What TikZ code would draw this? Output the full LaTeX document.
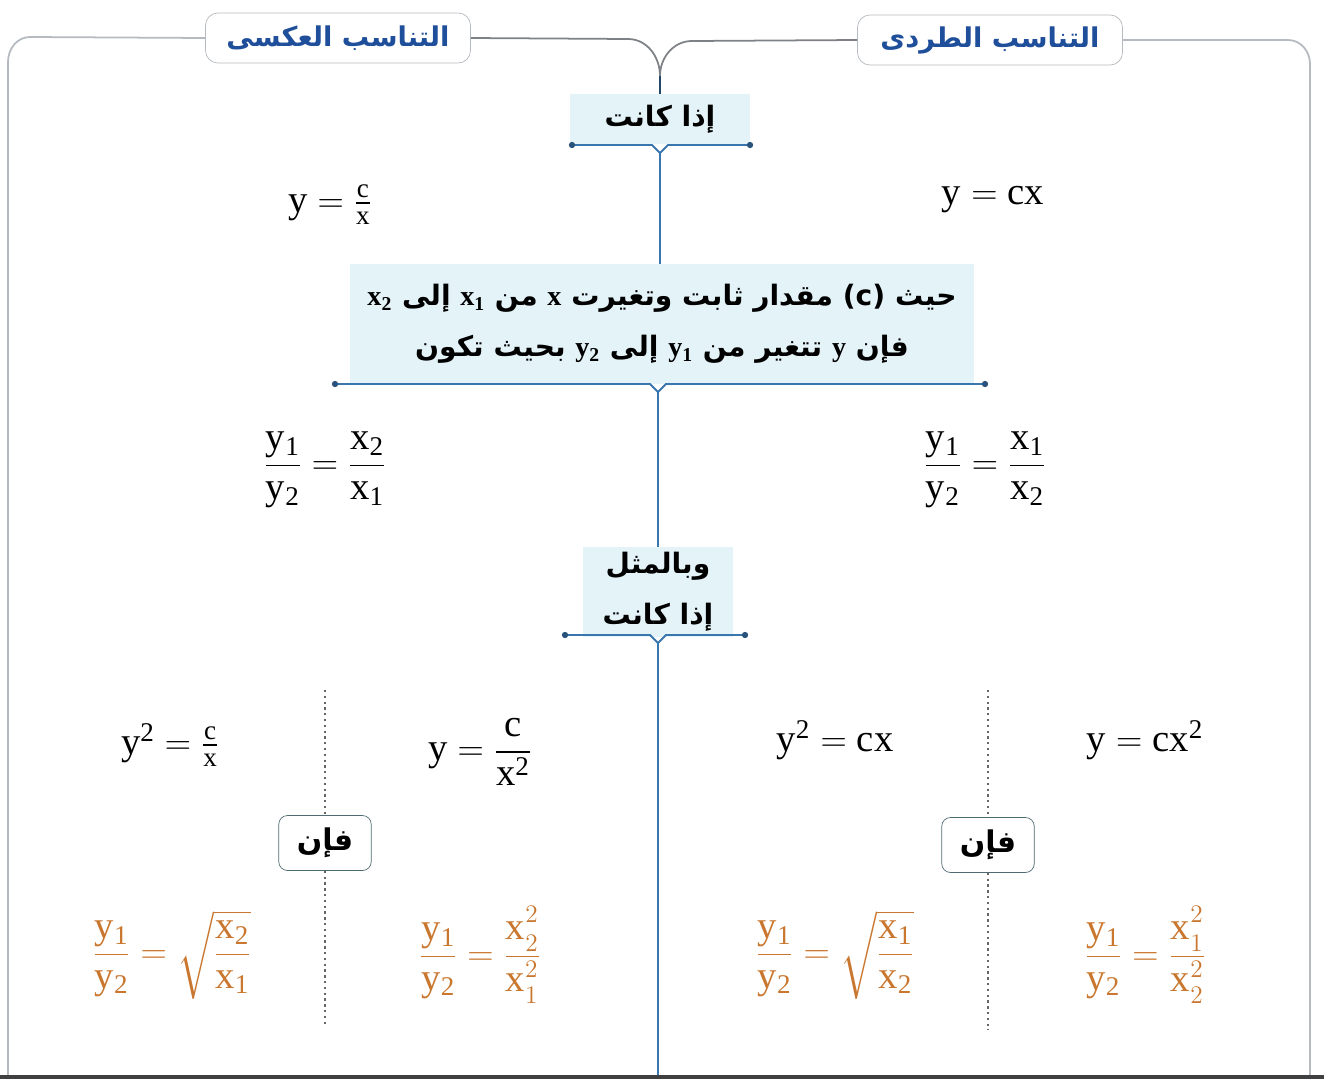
\documentclass[tikz,border=0pt]{standalone}
\usepackage{amsmath}
\usepackage{fontspec}
\setmainfont{Liberation Serif}
\newfontfamily\arabicfont[Script=Arabic]{DejaVu Sans}
\TeXXeTstate=1
\usetikzlibrary{positioning}
\definecolor{linkblue}{HTML}{3A76AE}
\definecolor{boxcyan}{HTML}{E4F3F8}
\definecolor{hdrblue}{HTML}{1F4E9A}
\definecolor{fmlorange}{HTML}{C9772F}
\definecolor{framegray}{HTML}{B4BAC0}
\definecolor{thengray}{HTML}{4F6B72}
% x with a squared exponent over its index
\newcommand\xsq[1]{\mathrm{x}^{\raisebox{2pt}{$\scriptstyle 2$}}_{\raisebox{-1.5pt}{$\scriptstyle #1$}}}

\begin{document}
\begin{tikzpicture}[x=0.02cm, y=-0.02cm,
    hdr/.style={draw=framegray, rounded corners=7pt, fill=white, minimum width=5.3cm, minimum height=1cm, text=hdrblue, font=\arabicfont\bfseries\fontsize{15.5}{20}\selectfont},
    cbox/.style={fill=boxcyan, align=center, inner sep=3pt, font=\arabicfont\bfseries\fontsize{16}{29}\selectfont},
    thenbox/.style={draw=thengray, rounded corners=5pt, fill=white, minimum width=1.85cm, minimum height=1.1cm, font=\arabicfont\bfseries\fontsize{17}{20}\selectfont},
    fml/.style={font=\fontsize{22}{26}\selectfont},
    ofml/.style={fml, text=fmlorange},
    link/.style={draw=linkblue, line width=1.1pt},
    frame/.style={draw=framegray, line width=1pt},
    sep/.style={draw=black!60, dotted, line width=1.3pt}
]
\useasboundingbox (0,0) rectangle (1324,1079);

% headers
\node[hdr] (hinv) at (338,38) {\beginR التناسب العكسى\endR};
\node[hdr] (hdir) at (990,40) {\beginR التناسب الطردى\endR};

% central boxes
\node[cbox, minimum width=3.6cm, minimum height=1cm] (if1) at (660,119) {\beginR إذا كانت\endR};
\node[cbox, minimum width=12.5cm, minimum height=2.4cm] (cond) at (662,324)
  {\beginR حيث \beginL(c)\endL{} مقدار ثابت وتغيرت \beginL$\mathbf{x}$\endL{} من \beginL$\mathbf{x_1}$\endL{} إلى \beginL$\mathbf{x_2}$\endL\endR\\
   \beginR فإن \beginL$\mathbf{y}$\endL{} تتغير من \beginL$\mathbf{y_1}$\endL{} إلى \beginL$\mathbf{y_2}$\endL{} بحيث تكون\endR};
\node[cbox, minimum width=3cm, minimum height=1.7cm] (sim) at (658,592)
  {\beginR وبالمثل\endR\\\beginR إذا كانت\endR};

% frame and fork
\draw[frame] (hinv.west) -- (30,37) to[out=180,in=90] (8,62) -- (8,1079);
\draw[frame] (hdir.east) -- (1288,40) to[out=0,in=90] (1310,64) -- (1310,1079);
\coordinate (fork) at (660,76);
\draw[frame, draw=framegray!70!black] (hinv.east) -- (628,39) to[out=0,in=90] (fork);
\draw[frame, draw=framegray!70!black] (hdir.west) -- (692,41) to[out=180,in=90] (fork);
\draw[link, draw=linkblue!60!black] (fork) -- (if1.north);

% bars under the boxes
\coordinate (n1) at (660,153);
\coordinate (n2) at (658,392);
\coordinate (n3) at (658,643);
\draw[link] (572,145) -- (652,145) -- (n1) -- (668,145) -- (750,145);
\draw[link] (335,384) -- (650,384) -- (n2) -- (666,384) -- (985,384);
\draw[link] (565,635) -- (650,635) -- (n3) -- (666,635) -- (745,635);
\foreach \p in {(572,145),(750,145),(335,384),(985,384),(565,635),(745,635)}
  \fill[linkblue!70!black] \p circle (1.8pt);
\draw[link] (n1) -- (n1 |- cond.north);
\draw[link] (n2) -- (n2 |- sim.north);
\draw[link] (n3) -- (658,1079);

% first rows
\node[fml] (f1) at (330,205) {$\mathrm{y = \frac{c}{x}}$};
\node[fml] (f2) at (993,200) {$\mathrm{y = cx}$};
\node[fml] (r1) at (325,470) {$\mathrm{\dfrac{y_1}{y_2} = \dfrac{x_2}{x_1}}$};
\node[fml] (r2) at (985,470) {$\mathrm{\dfrac{y_1}{y_2} = \dfrac{x_1}{x_2}}$};

% second rows
\node[fml] (p1) at (170,745) {$\mathrm{y^2 = \frac{c}{x}}$};
\node[fml] (p2) at (480,752) {$\mathrm{y = \dfrac{c}{x^2}}$};
\node[fml] (p3) at (835,740) {$\mathrm{y^2 = cx}$};
\node[fml] (p4) at (1145,740) {$\mathrm{y = cx^2}$};

\node[thenbox] (then1) at (325,843) {\beginR فإن\endR};
\node[thenbox] (then2) at (988,845) {\beginR فإن\endR};
\draw[sep] (325,690) -- (then1.north);
\draw[sep] (then1.south) -- (325,1025);
\draw[sep] (988,690) -- (then2.north);
\draw[sep] (then2.south) -- (988,1030);

\node[ofml] (o1) at (172,955) {$\mathrm{\dfrac{y_1}{y_2} = \sqrt{\dfrac{x_2}{x_1}}}$};
\node[ofml] (o2) at (480,955) {$\mathrm{\dfrac{y_1}{y_2}} = \dfrac{\xsq{2}}{\xsq{1}}$};
\node[ofml] (o3) at (835,955) {$\mathrm{\dfrac{y_1}{y_2} = \sqrt{\dfrac{x_1}{x_2}}}$};
\node[ofml] (o4) at (1145,955) {$\mathrm{\dfrac{y_1}{y_2}} = \dfrac{\xsq{1}}{\xsq{2}}$};

\draw[black!75, line width=2.5pt] (0,1077) -- (1324,1077);
\end{tikzpicture}
\end{document}
